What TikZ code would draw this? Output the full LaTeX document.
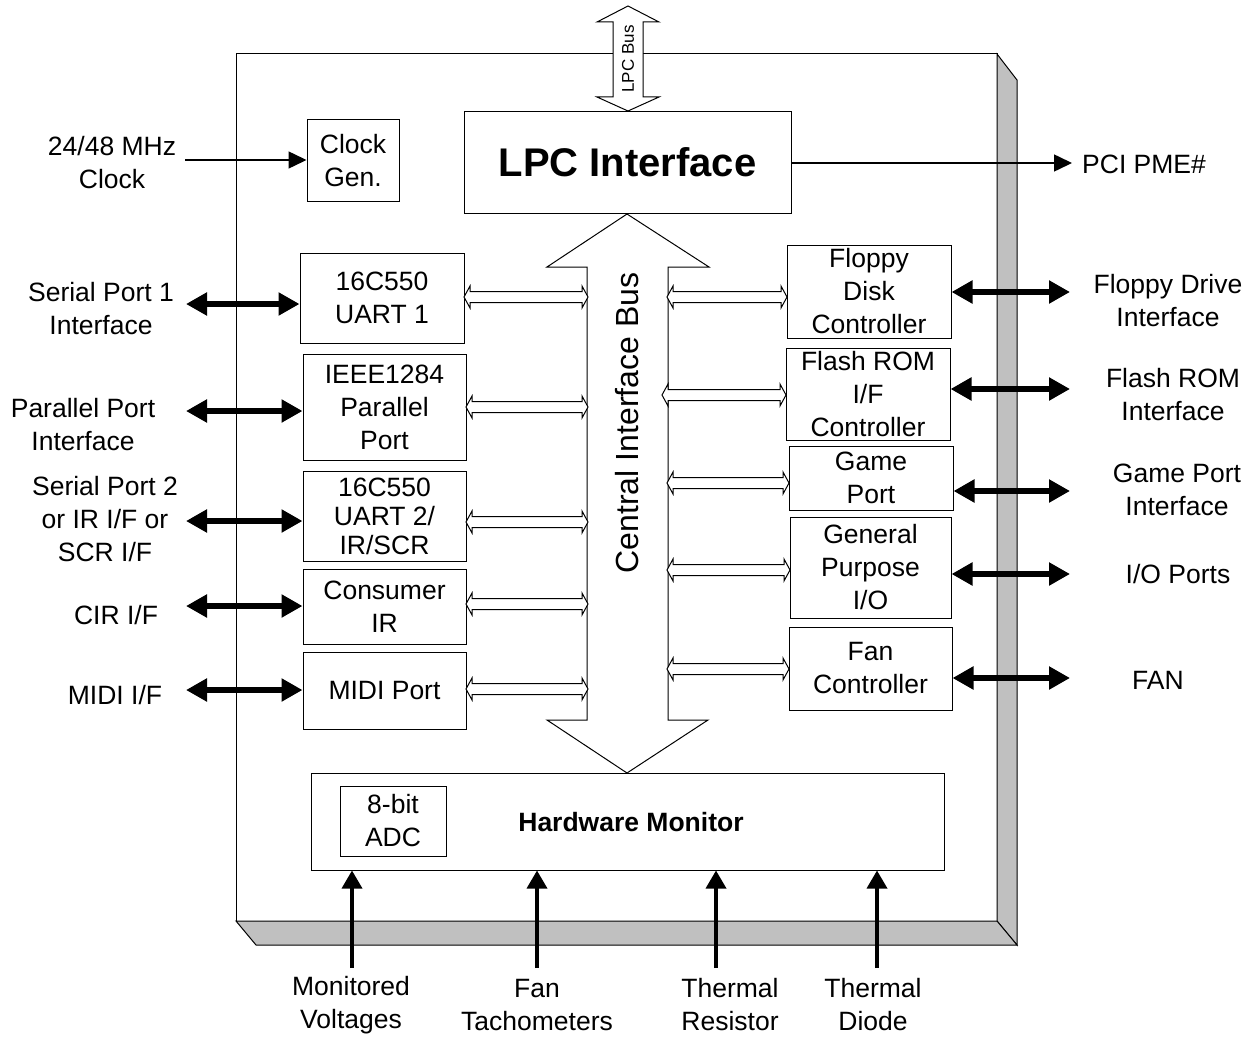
\documentclass[tikz,border=0pt]{standalone}
\usepackage{fontspec}
\setmainfont{Liberation Sans}
\usetikzlibrary{arrows.meta}
\definecolor{shade}{RGB}{192,192,192}
\tikzset{
  lbl/.style={font=\fontsize{26.5}{33}\selectfont, align=center, inner sep=0pt},
  blk/.style={draw, line width=1pt, fill=white, align=center, inner sep=0pt, font=\fontsize{26.5}{33}\selectfont},
  bigarr/.style={line width=5.5pt, {Triangle[length=21pt,width=22pt]}-{Triangle[length=21pt,width=22pt]}},
  uparr/.style={line width=3.5pt, -{Triangle[length=18pt,width=20pt]}},
  thinarr/.style={line width=1.5pt, -{Triangle[length=18pt,width=17pt]}},
  hollow/.style={draw, line width=1pt, fill=white, line join=miter}
}
\newcommand\hollowarr[3]{%
  \draw[hollow] (#1,#3) -- (#1+6,#3-11) -- (#1+6,#3-5.5) -- (#2-6,#3-5.5) -- (#2-6,#3-11) -- (#2,#3)
   -- (#2-6,#3+11) -- (#2-6,#3+5.5) -- (#1+6,#3+5.5) -- (#1+6,#3+11) -- cycle;}
\begin{document}
\begin{tikzpicture}[x=1pt,y=-1pt]
\useasboundingbox (0,0) rectangle (1260,1038);
% chip
\draw[line width=1pt, fill=white] (236,54) rectangle (997,921);
\draw[line width=1pt, fill=shade] (997,54) -- (1017,80) -- (1017,945) -- (997,921) -- cycle;
\draw[line width=1pt, fill=shade] (236,921) -- (997,921) -- (1017,945) -- (256,945) -- cycle;
% LPC bus
\draw[hollow] (628,6) -- (659,22) -- (643,22) -- (643,97) -- (659,97) -- (628,111) -- (597,97) -- (613,97) -- (613,22) -- (597,22) -- cycle;
\node[rotate=90, font=\fontsize{17}{20}\selectfont, inner sep=0pt] (lpcbus) at (628,59) {LPC Bus};
% LPC interface
\node[blk, minimum width=327pt, minimum height=101pt, font=\fontsize{40}{48}\selectfont\bfseries] (lpc) at (627.5,162.5) {LPC Interface};
% clock gen
\node[blk, minimum width=92pt, minimum height=81pt] (clk) at (353,160.5) {Clock\\Gen.};
\node[lbl] (clklbl) at (112,163) {24/48 MHz\\Clock};
\coordinate (clkin) at (185,160);
\draw[thinarr] (clkin) -- (clkin -| clk.west);
% PCI PME
\node[lbl, anchor=west] (pme) at (1082,164) {PCI PME\#};
\coordinate (pmeend) at (1072,163);
\draw[thinarr] (lpc.east |- pmeend) -- (pmeend);
% central bus
\draw[hollow] (627,214) -- (709,267) -- (668,267) -- (668,720) -- (708,720) -- (627,773) -- (547,720) -- (587,720) -- (587,267) -- (547,267) -- cycle;
\node[rotate=90, font=\fontsize{32}{38}\selectfont, inner sep=0pt] (cib) at (627,423) {Central Interface Bus};
% left blocks
\node[blk, minimum width=164pt, minimum height=90pt] (u1) at (382,298) {16C550\\UART 1};
\node[blk, minimum width=163pt, minimum height=106pt] (pp) at (384.5,407) {IEEE1284\\Parallel\\Port};
\node[blk, minimum width=163pt, minimum height=90pt, font=\fontsize{26.5}{29}\selectfont] (u2) at (384.5,516) {16C550\\UART 2/\\IR/SCR};
\node[blk, minimum width=163pt, minimum height=75pt] (cir) at (384.5,606.5) {Consumer\\IR};
\node[blk, minimum width=163pt, minimum height=77pt] (midi) at (384.5,690.5) {MIDI Port};
% right blocks
\node[blk, minimum width=164pt, minimum height=93pt] (fdc) at (869,291.5) {Floppy\\Disk\\Controller};
\node[blk, minimum width=164pt, minimum height=92pt] (rom) at (868,394) {Flash ROM\\I/F\\Controller};
\node[blk, minimum width=164pt, minimum height=64pt] (game) at (871,478) {Game\\Port};
\node[blk, minimum width=161pt, minimum height=101pt] (gpio) at (870.5,567.5) {General\\Purpose\\I/O};
\node[blk, minimum width=163pt, minimum height=83pt] (fan) at (870.5,668.5) {Fan\\Controller};
% small hollow arrows
\hollowarr{464}{588}{297}
\hollowarr{466}{588}{407}
\hollowarr{466}{588}{522}
\hollowarr{466}{588}{604}
\hollowarr{466}{588}{689}
\hollowarr{667}{787}{297}
\hollowarr{662}{786}{395}
\hollowarr{667}{789}{483}
\hollowarr{667}{790}{570}
\hollowarr{667}{789}{669}
% left labels and arrows
\node[lbl] (l1) at (101,309) {Serial Port 1\\Interface};
\node[lbl] (l2) at (83,425) {Parallel Port\\Interface};
\node[lbl] (l3) at (105,519.5) {Serial Port 2\\or IR I/F or\\SCR I/F};
\node[lbl] (l4) at (116,615) {CIR I/F};
\node[lbl] (l5) at (115,695) {MIDI I/F};
\coordinate (a1) at (186,304);
\coordinate (a2) at (186,411);
\coordinate (a3) at (186,521);
\coordinate (a4) at (186,606);
\coordinate (a5) at (186,690);
\draw[bigarr] (a1) -- (a1 -| u1.west);
\draw[bigarr] (a2) -- (a2 -| pp.west);
\draw[bigarr] (a3) -- (a3 -| u2.west);
\draw[bigarr] (a4) -- (a4 -| cir.west);
\draw[bigarr] (a5) -- (a5 -| midi.west);
% right labels and arrows
\node[lbl] (r1) at (1168,301) {Floppy Drive\\Interface};
\node[lbl] (r2) at (1173,395) {Flash ROM\\Interface};
\node[lbl] (r3) at (1177,490) {Game Port\\Interface};
\node[lbl] (r4) at (1178,574) {I/O Ports};
\node[lbl] (r5) at (1158,680) {FAN};
\coordinate (b1) at (1070,292);
\coordinate (b2) at (1070,389);
\coordinate (b3) at (1070,491);
\coordinate (b4) at (1070,574);
\coordinate (b5) at (1070,678);
\draw[bigarr] (b1 -| fdc.east) -- (b1);
\draw[bigarr] (b2 -| rom.east) -- (b2);
\draw[bigarr] (b3 -| game.east) -- (b3);
\draw[bigarr] (b4 -| gpio.east) -- (b4);
\draw[bigarr] (b5 -| fan.east) -- (b5);
% hardware monitor
\node[blk, minimum width=633pt, minimum height=97pt] (hwm) at (627.5,821.5) {};
\node[font=\fontsize{26.5}{33}\selectfont\bfseries, inner sep=0pt] (hwmt) at (631,822) {Hardware Monitor};
\node[blk, minimum width=106pt, minimum height=70pt] (adc) at (393,821) {8-bit\\ADC};
% bottom arrows and labels
\coordinate (c1) at (352,968);
\coordinate (c2) at (537,968);
\coordinate (c3) at (716,968);
\coordinate (c4) at (877,968);
\draw[uparr] (c1) -- (c1 |- hwm.south);
\draw[uparr] (c2) -- (c2 |- hwm.south);
\draw[uparr] (c3) -- (c3 |- hwm.south);
\draw[uparr] (c4) -- (c4 |- hwm.south);
\node[lbl] (d1) at (351,1005) {Monitored\\Voltages};
\node[lbl] (d2) at (537,1005) {Fan\\Tachometers};
\node[lbl] (d3) at (730,1005) {Thermal\\Resistor};
\node[lbl] (d4) at (873,1005) {Thermal\\Diode};
\end{tikzpicture}
\end{document}
